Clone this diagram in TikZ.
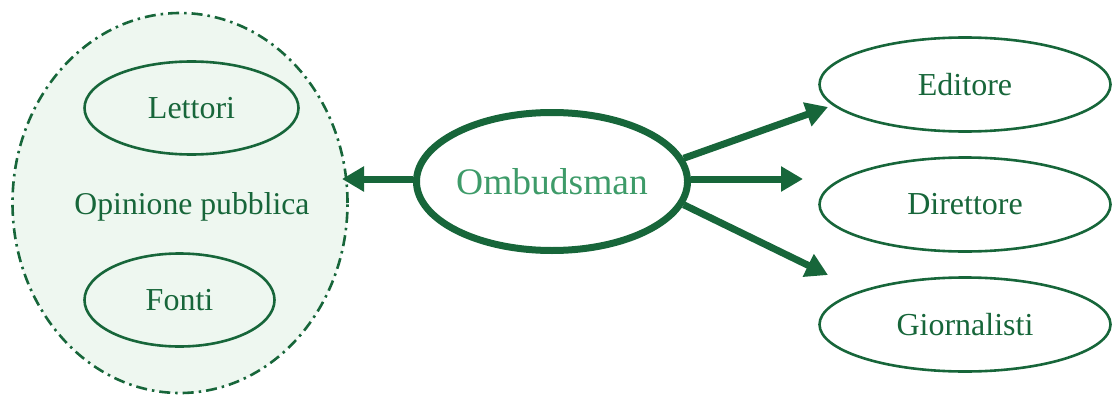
\documentclass[tikz,border=0pt]{standalone}
\usepackage{fontspec}
\setmainfont{Liberation Serif}
\usetikzlibrary{shapes.geometric,arrows.meta}
\definecolor{dkgreen}{HTML}{17663A}
\definecolor{ltgreen}{HTML}{3E9B69}
\definecolor{mint}{HTML}{EEF7F0}
\tikzset{
  smallell/.style={ellipse,draw=dkgreen,line width=2.6pt,inner sep=0pt,text=dkgreen,
    font=\fontsize{32}{36}\selectfont},
  bigarrow/.style={draw=dkgreen,line width=7pt,-{Triangle[length=22pt,width=24pt]},fill=dkgreen},
}
\begin{document}
\begin{tikzpicture}[x=1pt,y=-1pt]
\useasboundingbox (0,0) rectangle (1113,396);
% public opinion group
\node[ellipse,draw=dkgreen,fill=mint,line width=2.6pt,
  dash pattern=on 11pt off 5pt on 2.5pt off 5pt,
  minimum width=335pt,minimum height=380pt,inner sep=0pt] (pub) at (180,203) {};
\node[text=dkgreen,font=\fontsize{31.7}{36}\selectfont] (op) at (192,207) {Opinione pubblica};
\node[smallell,minimum width=214pt,minimum height=93pt] (lett) at (191.5,108) {Lettori};
\node[smallell,minimum width=190pt,minimum height=93pt] (fonti) at (179.5,300) {Fonti};
% ombudsman
\node[ellipse,draw=dkgreen,line width=7pt,inner sep=0pt,minimum width=263pt,minimum height=138pt,
  text=ltgreen,font=\fontsize{37.5}{40}\selectfont] (omb) at (552,181.5) {Ombudsman};
% right side
\node[smallell,minimum width=291pt,minimum height=94pt] (ed) at (965,84.5) {Editore};
\node[smallell,minimum width=291pt,minimum height=94pt] (dir) at (965,204.5) {Direttore};
\node[smallell,minimum width=291pt,minimum height=94pt] (gio) at (965,324.5) {Giornalisti};
% arrow tips
\coordinate (tl) at (342,179);
\coordinate (tm) at (803,179);
\coordinate (tu) at (828,107);
\coordinate (td) at (828,275);
\draw[bigarrow] (omb.west |- tl) -- (tl);
\draw[bigarrow] (omb.east |- tm) -- (tm);
\draw[bigarrow] (omb.10) -- (tu);
\draw[bigarrow] (omb.-10) -- (td);
\end{tikzpicture}
\end{document}
